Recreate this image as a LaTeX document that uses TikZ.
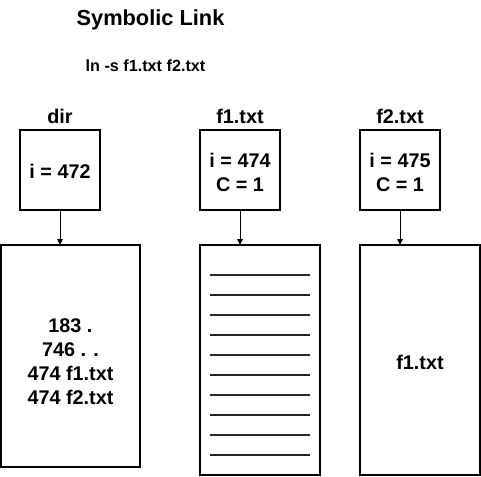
\documentclass[tikz,border=0pt]{standalone}
\usepackage{fontspec}
\setmainfont{Liberation Sans}
\usetikzlibrary{arrows.meta}
\begin{document}
\begin{tikzpicture}[x=1pt,y=-1pt,
  box/.style={draw=black,line width=1.2pt},
  lbl/.style={font=\fontsize{19.8}{24}\selectfont\bfseries,align=center,inner sep=0pt},
  conn/.style={draw=black,line width=0.9pt,-{Triangle[width=5.5pt,length=6pt]}},
  rule/.style={draw=black!85,line width=2pt}]
\useasboundingbox (0,0) rectangle (481,476);
% title
\node[font=\fontsize{21.8}{25}\selectfont\bfseries,inner sep=0pt] (title) at (150.5,20) {Symbolic Link};
\node[font=\fontsize{16.2}{19}\selectfont\bfseries,inner sep=0pt] (cmd) at (145.5,66) {ln -s f1.txt f2.txt};
% headers
\node[lbl] (hdir) at (60,116) {dir};
\node[lbl] (hf1) at (240,116) {f1.txt};
\node[lbl] (hf2) at (400,116) {f2.txt};
% inode boxes
\draw[box] (20,130) rectangle (100,210);
\coordinate (idirB) at (60,210);
\node[lbl] (idir) at (60,171) {i = 472};
\draw[box] (200,130) rectangle (280,210);
\coordinate (if1B) at (240,210);
\node[lbl] (if1) at (240,172) {i = 474\\C = 1};
\draw[box] (360,130) rectangle (440,210);
\coordinate (if2B) at (400,210);
\node[lbl] (if2) at (400,172) {i = 475\\C = 1};
% data boxes
\draw[box] (1,245) rectangle (140,467);
\coordinate (ddirT) at (60,245);
\node[lbl] (ddir) at (70.5,362) {183 .\\746 . .\\474 f1.txt\\474 f2.txt};
\draw[box] (200,245) rectangle (320,475);
\coordinate (df1T) at (240,245);
\foreach \k in {0,...,9} {\draw[rule] (210,275+20*\k) -- (310,275+20*\k);}
\draw[box] (360,245) rectangle (480,475);
\coordinate (df2T) at (400,245);
\node[lbl] (df2) at (420,362) {f1.txt};
% connectors
\draw[conn] (idirB) -- (ddirT);
\draw[conn] (if1B) -- (df1T);
\draw[conn] (if2B) -- (df2T);
\end{tikzpicture}
\end{document}
